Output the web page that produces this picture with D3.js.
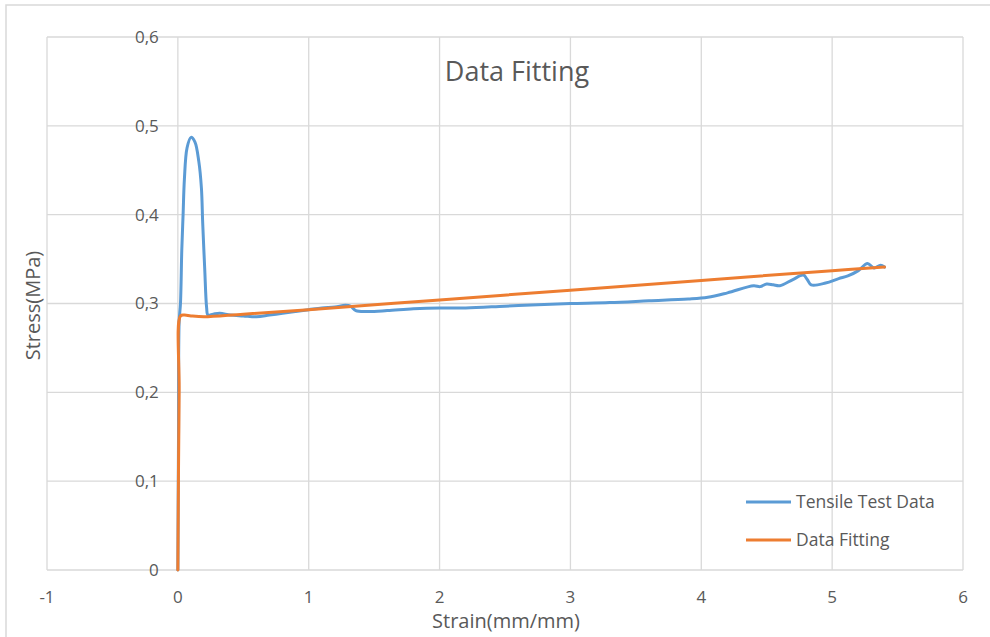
<!DOCTYPE html>
<html>
<head>
<meta charset="utf-8">
<script src="https://cdn.jsdelivr.net/npm/d3@7"></script>
<style>
  body { margin: 0; background: #fff; }
  text { font-family: "Open Sans", "Noto Sans", sans-serif; fill: #595959; }
</style>
</head>
<body>
<svg id="chart" width="990" height="637"></svg>
<script>
// tensile test curve
var tensileStrain = [0, 0.005, 0.01, 0.02, 0.03, 0.04, 0.05, 0.07, 0.1, 0.13, 0.16, 0.18, 0.19, 0.205, 0.22, 0.23,
  0.27, 0.32, 0.4, 0.5, 0.6, 0.7, 0.8, 0.9, 1.0, 1.1, 1.2, 1.28, 1.32, 1.36, 1.45, 1.6, 1.8, 2.0, 2.2, 2.5, 2.8,
  3.0, 3.3, 3.6, 3.9, 4.05, 4.2, 4.4, 4.45, 4.5, 4.55, 4.6, 4.7, 4.78, 4.81, 4.84, 4.95, 5.05, 5.12, 5.2, 5.27,
  5.32, 5.37, 5.4];
var tensileStress = [0, 0.15, 0.28, 0.30, 0.36, 0.40, 0.44, 0.475, 0.487, 0.482, 0.46, 0.43, 0.39, 0.34, 0.295, 0.287,
  0.288, 0.289, 0.287, 0.286, 0.285, 0.287, 0.289, 0.291, 0.293, 0.295, 0.296, 0.298, 0.297, 0.292, 0.291, 0.292, 0.294, 0.295, 0.295, 0.297, 0.299,
  0.300, 0.301, 0.303, 0.305, 0.307, 0.312, 0.320, 0.319, 0.322, 0.321, 0.320, 0.327, 0.332, 0.327, 0.321, 0.323, 0.328, 0.331, 0.337, 0.345,
  0.340, 0.343, 0.341];

// fitted curve
var fitStrain = [0, 0.01, 0.02, 0.05, 0.1, 0.2, 0.5, 1, 2, 3, 4, 5, 5.4];
var fitStress = [0, 0.2, 0.286, 0.287, 0.286, 0.285, 0.288, 0.293, 0.304, 0.315, 0.326, 0.337, 0.341];

var xTicks = [-1, 0, 1, 2, 3, 4, 5, 6];
var yTicks = [0, 0.1, 0.2, 0.3, 0.4, 0.5, 0.6];
var seriesNames = ['Tensile Test Data', 'Data Fitting'];
var seriesColors = ['#5b9bd5', '#ed7d31'];

var svg = d3.select('#chart');
var plot = {left: 47, right: 963, top: 37, bottom: 570};

var x = d3.scaleLinear().domain([-1, 6]).range([plot.left, plot.right]);
var y = d3.scaleLinear().domain([0, 0.6]).range([plot.bottom, plot.top]);

// outer frame
svg.append('rect')
    .attr('x', 6).attr('y', 5)
    .attr('width', 1000).attr('height', 650)
    .attr('fill', 'none')
    .attr('stroke', '#d9d9d9')
    .attr('stroke-width', 1.5);

// gridlines
svg.selectAll('.hgrid').data(yTicks).enter()
    .append('line')
    .attr('class', 'hgrid')
    .attr('x1', plot.left).attr('x2', plot.right)
    .attr('y1', function(d) { return y(d); })
    .attr('y2', function(d) { return y(d); })
    .attr('stroke', '#d9d9d9').attr('stroke-width', 1.3);

svg.selectAll('.vgrid').data(xTicks).enter()
    .append('line')
    .attr('class', 'vgrid')
    .attr('y1', plot.top).attr('y2', plot.bottom)
    .attr('x1', function(d) { return x(d); })
    .attr('x2', function(d) { return x(d); })
    .attr('stroke', '#d9d9d9').attr('stroke-width', 1.3);

// tick labels (y labels sit next to the x=0 axis, excel style)
var fmt = function(d) { return d3.format('.1~f')(d).replace('.', ','); };

svg.selectAll('.ylab').data(yTicks).enter()
    .append('text')
    .attr('class', 'ylab')
    .attr('x', x(0) - 19)
    .attr('y', function(d) { return y(d); })
    .attr('dy', '0.35em')
    .attr('text-anchor', 'end')
    .attr('font-size', '17px')
    .text(fmt);

svg.selectAll('.xlab').data(xTicks).enter()
    .append('text')
    .attr('class', 'xlab')
    .attr('x', function(d) { return x(d); })
    .attr('y', 597)
    .attr('dy', '0.35em')
    .attr('text-anchor', 'middle')
    .attr('font-size', '17px')
    .text(function(d) { return d; });

// lines
var line = d3.line()
    .x(function(d) { return x(d[0]); })
    .y(function(d) { return y(d[1]); })
    .curve(d3.curveCatmullRom.alpha(0.5));

var series = [
    d3.zip(tensileStrain, tensileStress),
    d3.zip(fitStrain, fitStress)
];

svg.selectAll('.series').data(series).enter()
    .append('path')
    .attr('class', 'series')
    .attr('d', line)
    .attr('fill', 'none')
    .attr('stroke', function(d, i) { return seriesColors[i]; })
    .attr('stroke-width', 3)
    .attr('stroke-linejoin', 'round')
    .attr('stroke-linecap', 'round');

// title and axis titles
svg.append('text')
    .attr('x', 517).attr('y', 81)
    .attr('text-anchor', 'middle')
    .attr('font-size', '27px')
    .text('Data Fitting');

svg.append('text')
    .attr('x', (plot.left + plot.right) / 2 + 1).attr('y', 628)
    .attr('text-anchor', 'middle')
    .attr('font-size', '20px')
    .text('Strain(mm/mm)');

svg.append('text')
    .attr('transform', 'translate(40,' + ((plot.top + plot.bottom) / 2 + 2) + ') rotate(-90)')
    .attr('text-anchor', 'middle')
    .attr('font-size', '20px')
    .text('Stress(MPa)');

// legend
var legend = svg.selectAll('.legend').data(seriesNames).enter()
    .append('g')
    .attr('class', 'legend')
    .attr('transform', function(d, i) { return 'translate(746,' + (502 + i * 38) + ')'; });

legend.append('line')
    .attr('x1', 0).attr('x2', 45)
    .attr('stroke', function(d, i) { return seriesColors[i]; })
    .attr('stroke-width', 3);

legend.append('text')
    .attr('x', 50)
    .attr('dy', '0.35em')
    .attr('font-size', '17.5px')
    .text(function(d) { return d; });
</script>
</body>
</html>
